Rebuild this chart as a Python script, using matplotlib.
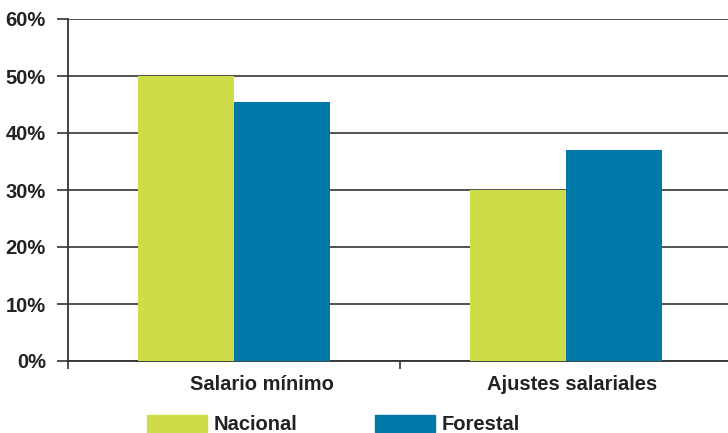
import numpy as np
import matplotlib.pyplot as plt
from matplotlib.patches import Patch

categories = ['Salario mínimo', 'Ajustes salariales']
series_names = ['Nacional', 'Forestal']
nacional = [50.0, 30.0]
forestal = [45.5, 37.0]
colors = ['#cfdc4a', '#0079a9']

plt.rcParams['font.family'] = ['Liberation Sans Narrow', 'Liberation Sans', 'DejaVu Sans']
text_color = '#222222'
fs = 14.5

fig = plt.figure(figsize=(7.28, 4.33), dpi=100)
ax = fig.add_axes([68/728, 72/433, 664/728, 342/433])

x = np.arange(len(categories))
w = 0.29
ax.bar(x - w/2, nacional, width=w, color=colors[0], zorder=3)
ax.bar(x + w/2, forestal, width=w, color=colors[1], zorder=3)

ax.set_xlim(-0.5, 1.5)
ax.set_ylim(0, 60)
ax.set_yticks(np.arange(0, 61, 10))
ax.set_yticklabels(['{}%'.format(v) for v in range(0, 61, 10)],
                   fontsize=fs, fontweight='bold', color=text_color)
ax.yaxis.grid(True, color='#444444', linewidth=1.3, zorder=1)
ax.tick_params(axis='y', length=8, width=1.2, color='#333333', pad=8)

# category ticks sit between the groups
ax.set_xticks([-0.5, 0.5, 1.5])
ax.set_xticklabels([])
ax.tick_params(axis='x', length=6, width=1.2, color='#333333')
# labels in the original are not quite centred under their groups
label_shift = [0.084, 0.018]
for xi, name, dx in zip(x, categories, label_shift):
    ax.text(xi + dx, -4.2, name, ha='center', va='center', fontsize=fs,
            fontweight='bold', color=text_color)

for side in ['top', 'right']:
    ax.spines[side].set_visible(False)
ax.spines['left'].set_color('#333333')
ax.spines['left'].set_linewidth(1.3)
ax.spines['bottom'].set_color('#333333')
ax.spines['bottom'].set_linewidth(1.3)

handles = [Patch(color=c) for c in colors]
leg = fig.legend(handles, series_names, loc='lower left',
                 bbox_to_anchor=(147/728, -0.003), ncol=2, frameon=False,
                 borderpad=0, borderaxespad=0,
                 handlelength=3.0, handleheight=0.9, handletextpad=0.3,
                 columnspacing=3.85, prop={'size': fs, 'weight': 'bold'})
for t in leg.get_texts():
    t.set_color(text_color)

fig.savefig('out.png', dpi=100)
